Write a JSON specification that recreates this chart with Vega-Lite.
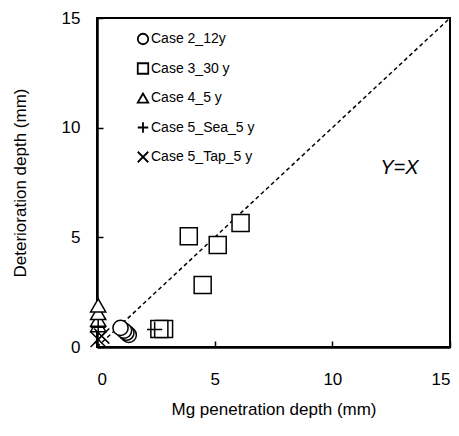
{
  "$schema": "https://vega.github.io/schema/vega-lite/v6.json",
  "width": 353,
  "height": 329,
  "autosize": {"type": "none"},
  "padding": {"left": 97, "top": 18, "right": 9, "bottom": 89},
  "background": "white",
  "config": {
    "view": {"stroke": "black", "strokeWidth": 2},
    "font": "Liberation Sans",
    "axis": {
      "grid": false,
      "domainColor": "black",
      "domainWidth": 2.5,
      "tickColor": "black",
      "tickWidth": 1.5,
      "tickSize": -6,
      "labelFont": "Liberation Sans",
      "labelFontSize": 17,
      "labelColor": "black",
      "titleFont": "Liberation Sans",
      "titleFontSize": 17,
      "titleFontWeight": "normal",
      "titleColor": "black"
    }
  },
  "datasets": {
    "pts": [
      {"x": 6.1, "y": 5.65, "series": "Case 3_30 y"},
      {"x": 3.9, "y": 5.05, "series": "Case 3_30 y"},
      {"x": 5.13, "y": 4.65, "series": "Case 3_30 y"},
      {"x": 4.49, "y": 2.83, "series": "Case 3_30 y"},
      {"x": 2.85, "y": 0.82, "series": "Case 3_30 y"},
      {"x": 2.65, "y": 0.82, "series": "Case 3_30 y"},
      {"x": 0.05, "y": 1.0, "series": "Case 4_5 y"},
      {"x": 0.05, "y": 1.25, "series": "Case 4_5 y"},
      {"x": 0.05, "y": 1.55, "series": "Case 4_5 y"},
      {"x": 0.05, "y": 1.9, "series": "Case 4_5 y"},
      {"x": 0.05, "y": 0.9, "series": "Case 5_Sea_5 y"},
      {"x": 2.45, "y": 0.8, "series": "Case 5_Sea_5 y"},
      {"x": 0.05, "y": 0.35, "series": "Case 5_Tap_5 y"},
      {"x": 0.2, "y": 0.5, "series": "Case 5_Tap_5 y"},
      {"x": 1.35, "y": 0.55, "series": "Case 2_12y"},
      {"x": 1.25, "y": 0.65, "series": "Case 2_12y"},
      {"x": 1.15, "y": 0.75, "series": "Case 2_12y"},
      {"x": 1.0, "y": 0.87, "series": "Case 2_12y"}
    ],
    "diag": [{"x": 0, "y": 0}, {"x": 15, "y": 15}],
    "lbl": [{"x": 12.85, "y": 8.15, "t": "Y=X"}]
  },
  "layer": [
    {
      "data": {"name": "diag"},
      "mark": {"type": "line", "color": "black", "strokeWidth": 1.5, "strokeDash": [4, 3], "clip": true},
      "encoding": {
        "x": {
          "field": "x", "type": "quantitative",
          "scale": {"domain": [0, 15], "nice": false, "zero": false},
          "axis": {"values": [0, 5, 10, 15], "title": "Mg penetration depth (mm)", "labelPadding": 30, "titlePadding": 14}
        },
        "y": {
          "field": "y", "type": "quantitative",
          "scale": {"domain": [0, 15], "nice": false, "zero": false},
          "axis": {"values": [0, 5, 10, 15], "title": "Deterioration depth (mm)", "labelPadding": 23, "titlePadding": 32}
        }
      }
    },
    {
      "data": {"name": "pts"},
      "transform": [{"filter": "datum.series === 'Case 3_30 y'"}],
      "mark": {"type": "point", "filled": false, "fill": "white", "fillOpacity": 1, "stroke": "black", "strokeWidth": 1.5, "opacity": 1, "size": 290},
      "encoding": {
        "x": {"field": "x", "type": "quantitative"},
        "y": {"field": "y", "type": "quantitative"},
        "shape": {"field": "series", "type": "nominal"}
      }
    },
    {
      "data": {"name": "pts"},
      "transform": [{"filter": "datum.series !== 'Case 3_30 y'"}],
      "mark": {"type": "point", "filled": false, "fill": "white", "fillOpacity": 1, "stroke": "black", "strokeWidth": 1.5, "opacity": 1, "size": 230},
      "encoding": {
        "x": {"field": "x", "type": "quantitative"},
        "y": {"field": "y", "type": "quantitative"},
        "shape": {
          "field": "series", "type": "nominal",
          "scale": {
            "domain": ["Case 2_12y", "Case 3_30 y", "Case 4_5 y", "Case 5_Sea_5 y", "Case 5_Tap_5 y"],
            "range": ["circle", "square", "triangle-up", "M-1,0H1M0,-1V1", "M-1,-1L1,1M-1,1L1,-1"]
          },
          "legend": {
            "orient": "none", "legendX": 39, "legendY": 14, "title": null,
            "symbolSize": 110, "symbolStrokeColor": "black", "symbolFillColor": "white",
            "symbolStrokeWidth": 1.8, "labelFontSize": 14, "labelFont": "Liberation Sans",
            "labelColor": "black", "rowPadding": 11.5, "labelOffset": 1, "padding": 0
          }
        }
      }
    },
    {
      "data": {"name": "lbl"},
      "mark": {"type": "text", "fontSize": 20, "fontStyle": "italic", "font": "Liberation Sans", "color": "black"},
      "encoding": {
        "x": {"field": "x", "type": "quantitative"},
        "y": {"field": "y", "type": "quantitative"},
        "text": {"field": "t"}
      }
    }
  ]
}
